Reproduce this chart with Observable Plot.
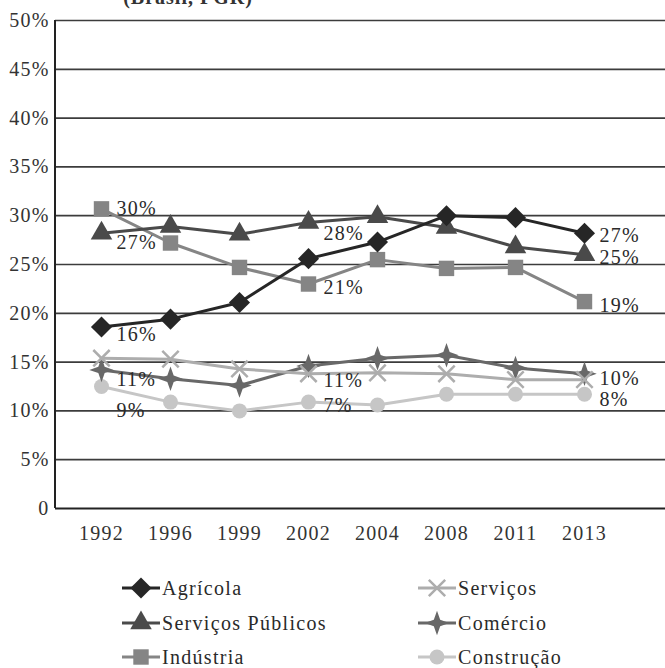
<!DOCTYPE html>
<html>
<head>
<meta charset="utf-8">
<script src="https://cdn.jsdelivr.net/npm/d3@7"></script>
<script src="https://cdn.jsdelivr.net/npm/@observablehq/plot@0.6"></script>
<style>
  body { margin: 0; background: #fff; }
  #wrap { position: relative; width: 665px; height: 668px; overflow: hidden; font-family: "Liberation Serif", serif; }
  #title { position: absolute; top: -14px; left: 0; width: 376px; text-align: center; font-weight: bold; font-size: 20px; letter-spacing: 1px; color: #333; }
  #chart svg, #legend svg { display: block; }
</style>
</head>
<body>
<div id="wrap">
  <div id="chart"></div>
  <div id="legend"></div>
  <div id="title">(Brasil, PGR)</div>
</div>
<script>
const years = ["1992", "1996", "1999", "2002", "2004", "2008", "2011", "2013"];
const agricola = [18.6, 19.4, 21.1, 25.6, 27.3, 30.0, 29.8, 28.2];
const servicosPublicos = [28.2, 28.9, 28.1, 29.3, 29.9, 28.8, 26.8, 26.0];
const industria = [30.7, 27.2, 24.7, 23.0, 25.5, 24.6, 24.7, 21.2];
const servicos = [15.4, 15.3, 14.3, 13.8, 13.9, 13.8, 13.2, 13.2];
const comercio = [14.2, 13.3, 12.6, 14.6, 15.4, 15.7, 14.4, 13.8];
const construcao = [12.5, 10.9, 10.0, 10.9, 10.6, 11.7, 11.7, 11.7];
const yTicks = [0, 5, 10, 15, 20, 25, 30, 35, 40, 45, 50];

// data labels as printed on the chart
const labelYears = ["1992", "1992", "1992", "1992", "1992", "2002", "2002", "2002", "2002", "2013", "2013", "2013", "2013", "2013"];
const labelValues = [30.7, 27.2, 17.8, 13.2, 10.0, 28.2, 22.6, 13.1, 10.5, 28.0, 25.7, 20.8, 13.3, 11.2];
const labelTexts = ["30%", "27%", "16%", "11%", "9%", "28%", "21%", "11%", "7%", "27%", "25%", "19%", "10%", "8%"];

const FONT = "'Liberation Serif', serif";

const star4 = {
  draw(ctx, size) {
    const r = Math.sqrt(size / Math.PI) * 1.75, w = r * 0.26;
    ctx.moveTo(0, -r); ctx.lineTo(w, -w); ctx.lineTo(r, 0); ctx.lineTo(w, w);
    ctx.lineTo(0, r); ctx.lineTo(-w, w); ctx.lineTo(-r, 0); ctx.lineTo(-w, -w); ctx.closePath();
  }
};

const series = [
  {name: "Construção", values: construcao, color: "#c6c6c6", symbol: "circle", r: 7.5, filled: true},
  {name: "Comércio", values: comercio, color: "#686868", symbol: star4, r: 7, filled: true},
  {name: "Serviços", values: servicos, color: "#adadad", symbol: "times", r: 7.5, filled: false},
  {name: "Indústria", values: industria, color: "#858585", symbol: "square", r: 8.7, filled: true},
  {name: "Serviços Públicos", values: servicosPublicos, color: "#4a4a4a", symbol: "triangle", r: 8, filled: true},
  {name: "Agrícola", values: agricola, color: "#262626", symbol: "diamond2", r: 9.5, filled: true}
];

const rows = s => years.map((y, i) => ({year: y, value: s.values[i]}));
const labels = labelTexts.map((t, i) => ({year: labelYears[i], value: labelValues[i], text: t}));

const leftLine = (index, scales, values, dims) => {
  const g = d3.create("svg:line")
    .attr("x1", dims.marginLeft).attr("x2", dims.marginLeft)
    .attr("y1", dims.marginTop).attr("y2", dims.height - dims.marginBottom)
    .attr("stroke", "#222").attr("stroke-width", 2);
  return g.node();
};

const marks = [
  Plot.ruleY(yTicks.filter(d => d > 0), {stroke: "#3c3c3c", strokeWidth: 1.7}),
  Plot.ruleY([0], {stroke: "#222", strokeWidth: 2}),
  leftLine,
  Plot.axisY({ticks: yTicks, tickSize: 0, tickPadding: 6, tickFormat: d => d === 0 ? "0" : d + "%", fontSize: 20, fill: "#333"}),
  Plot.axisX({tickSize: 0, tickPadding: 17, fontSize: 20, fill: "#333"})
];
for (const s of series) {
  marks.push(Plot.line(rows(s), {x: "year", y: "value", stroke: s.color, strokeWidth: 3}));
}
for (const s of series) {
  marks.push(Plot.dot(rows(s), s.filled
    ? {x: "year", y: "value", symbol: s.symbol, r: s.r, fill: s.color, stroke: "none"}
    : {x: "year", y: "value", symbol: s.symbol, r: s.r, fill: "none", stroke: s.color, strokeWidth: 2.5}));
}
marks.push(Plot.text(labels, {x: "year", y: "value", text: "text", dx: 15, textAnchor: "start", fontSize: 20, fill: "#2a2a2a"}));

const plot = Plot.plot({
  width: 665,
  height: 548,
  marginLeft: 55,
  marginRight: 0,
  marginTop: 20,
  marginBottom: 40,
  style: {fontFamily: FONT, fontSize: "20px", letterSpacing: "1.2px", background: "white"},
  x: {type: "point", domain: years, range: [99, 585], padding: 0, label: null, axis: null},
  y: {domain: [0, 50], label: null, axis: null},
  marks
});
document.getElementById("chart").appendChild(plot);

// legend
const legendOrder = [
  ["Agrícola", "Serviços Públicos", "Indústria"],
  ["Serviços", "Comércio", "Construção"]
];
const colX = [122, 418];
const rowY = [40, 75, 109];
const lg = d3.select("#legend").append("svg").attr("width", 665).attr("height", 120)
  .style("font-family", FONT).style("font-size", "20px").style("letter-spacing", "1.3px");
legendOrder.forEach((col, ci) => col.forEach((name, ri) => {
  const s = series.find(d => d.name === name);
  const g = lg.append("g").attr("transform", `translate(${colX[ci]},${rowY[ri]})`);
  g.append("line").attr("x1", 0).attr("x2", 38).attr("stroke", s.color).attr("stroke-width", 3);
  const sym = typeof s.symbol === "string"
    ? {circle: d3.symbolCircle, times: d3.symbolTimes, square: d3.symbolSquare, triangle: d3.symbolTriangle, diamond2: d3.symbolDiamond2}[s.symbol]
    : s.symbol;
  const path = g.append("path").attr("transform", "translate(19,0)")
    .attr("d", d3.symbol(sym, Math.PI * s.r * s.r)());
  if (s.filled) path.attr("fill", s.color); else path.attr("fill", "none").attr("stroke", s.color).attr("stroke-width", 2.5);
  g.append("text").attr("x", 40).attr("dy", "0.35em").attr("fill", "#2a2a2a").text(name);
}));
</script>
</body>
</html>
